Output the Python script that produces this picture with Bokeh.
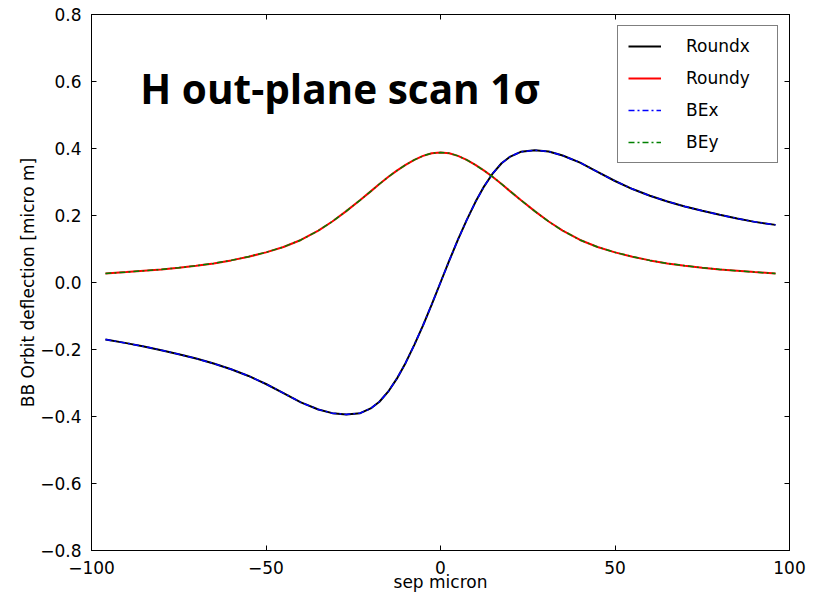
from bokeh.plotting import figure
from bokeh.models import (FixedTicker, LinearAxis, Legend, LegendItem, Label,
                          CustomJSTickFormatter, Range1d)
from bokeh.embed import file_html
from bokeh.resources import INLINE

# ---- data ----
sep = [-96, -90, -85, -80, -75, -70, -65, -60, -55, -50, -45, -40, -35, -31, -27, -23,
       -20, -17.5, -15, -12.5, -10, -7.5, -5, -2.5, 0, 2.5, 5, 7.5, 10, 12.5, 15, 17.5,
       20, 23, 27, 31, 35, 40, 45, 50, 55, 60, 65, 70, 75, 80, 85, 90, 96]

round_x = [-0.170, -0.181, -0.191, -0.202, -0.214, -0.227, -0.242, -0.259, -0.279, -0.303,
           -0.330, -0.358, -0.379, -0.390, -0.394, -0.390, -0.376, -0.356, -0.326, -0.287,
           -0.240, -0.186, -0.128, -0.065, 0.0, 0.065, 0.128, 0.186, 0.240, 0.287, 0.326,
           0.356, 0.376, 0.390, 0.395, 0.391, 0.379, 0.358, 0.330, 0.303, 0.279, 0.259,
           0.242, 0.227, 0.214, 0.202, 0.191, 0.181, 0.172]

round_y = [0.027, 0.031, 0.035, 0.039, 0.044, 0.050, 0.057, 0.066, 0.077, 0.090, 0.106,
           0.127, 0.155, 0.182, 0.213, 0.246, 0.272, 0.294, 0.315, 0.334, 0.351, 0.366,
           0.378, 0.386, 0.388, 0.386, 0.378, 0.366, 0.351, 0.334, 0.315, 0.294, 0.272,
           0.246, 0.213, 0.182, 0.155, 0.127, 0.106, 0.090, 0.077, 0.066, 0.057, 0.050,
           0.044, 0.039, 0.035, 0.031, 0.027]

be_x = list(round_x)
be_y = list(round_y)

x_ticks = [-100, -50, 0, 50, 100]
y_ticks = [-0.8, -0.6, -0.4, -0.2, 0.0, 0.2, 0.4, 0.6, 0.8]

title_text = "H out-plane scan 1\u03c3"
x_label = "sep micron"
y_label = "BB Orbit deflection [micro m]"

FONT = "DejaVu Sans"

p = figure(frame_width=698, frame_height=536, output_backend="svg", toolbar_location=None,
           x_range=Range1d(-100, 100), y_range=Range1d(-0.8, 0.8),
           min_border_left=91, min_border_right=20, min_border_top=14, min_border_bottom=40)
p.grid.visible = False
p.outline_line_color = "black"
p.outline_line_width = 1
p.background_fill_color = "white"
p.border_fill_color = "white"

def style_axis(ax, ticks, fmt, show_labels=True):
    ax.ticker = FixedTicker(ticks=ticks)
    ax.formatter = CustomJSTickFormatter(code=fmt)
    ax.major_tick_in = 5
    ax.major_tick_out = 0
    ax.minor_tick_line_color = None
    ax.axis_line_color = "black"
    ax.major_tick_line_color = "black"
    ax.major_label_text_font = FONT
    ax.major_label_text_font_size = "17px" if show_labels else "0px"
    ax.major_label_text_color = "black"
    ax.axis_label_text_font = FONT
    ax.axis_label_text_font_size = "17px"
    ax.axis_label_text_font_style = "normal"
    ax.axis_label_text_color = "black"

fx = "return tick.toFixed(0).replace('-', '\\u2212');"
fy = "return tick.toFixed(1).replace('-', '\\u2212');"

style_axis(p.xaxis[0], x_ticks, fx)
style_axis(p.yaxis[0], y_ticks, fy)
p.xaxis[0].axis_label = x_label
p.yaxis[0].axis_label = y_label
p.xaxis[0].major_label_standoff = 10
p.xaxis[0].axis_label_standoff = -5
p.yaxis[0].major_label_standoff = 10
p.yaxis[0].axis_label_standoff = -1

top_ax = LinearAxis()
right_ax = LinearAxis()
style_axis(top_ax, x_ticks, fx, show_labels=False)
style_axis(right_ax, y_ticks, fy, show_labels=False)
for ax in (top_ax, right_ax):
    ax.major_label_standoff = 0
    ax.axis_label_standoff = 0
p.add_layout(top_ax, "above")
p.add_layout(right_ax, "right")

r1 = p.line(sep, round_x, line_color="black", line_width=2)
r2 = p.line(sep, round_y, line_color="#ff0000", line_width=2)
r3 = p.line(sep, be_x, line_color="#0000ff", line_width=1.5, line_dash="6 3 2 3")
r4 = p.line(sep, be_y, line_color="#008000", line_width=1.5, line_dash="6 3 2 3")

legend = Legend(items=[LegendItem(label="Roundx", renderers=[r1]),
                       LegendItem(label="Roundy", renderers=[r2]),
                       LegendItem(label="BEx", renderers=[r3]),
                       LegendItem(label="BEy", renderers=[r4])],
                location="top_right", margin=11, padding=10, spacing=12,
                glyph_width=33, glyph_height=20, label_height=20, label_width=81,
                label_standoff=25, label_text_font=FONT, label_text_font_size="17px",
                label_text_color="black",
                border_line_color="black", border_line_width=1,
                background_fill_color="white", background_fill_alpha=1.0)
p.add_layout(legend, "center")

p.add_layout(Label(x=-86, y=0.578, text=title_text, text_font="Open Sans",
                   text_font_style="bold", text_font_size="40.5px", text_color="black",
                   text_baseline="alphabetic"))

open("out.html", "w").write(file_html(p, INLINE))
